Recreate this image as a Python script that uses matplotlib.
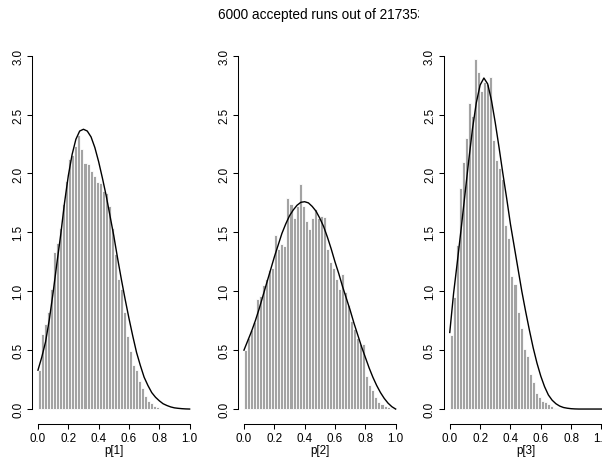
# %% imports
import numpy as np
import matplotlib
matplotlib.use('Agg')
import matplotlib.pyplot as plt
from matplotlib.transforms import Bbox, TransformedBbox

plt.rcParams['font.family'] = ['Liberation Sans', 'DejaVu Sans']

# %% data
title = '6000 accepted runs out of 217353'
labels = ['p[1]', 'p[2]', 'p[3]']
bin_width = 0.02

# histogram densities, 50 bins of width 0.02 on [0, 1]
dens_p1 = [0.33, 0.64, 0.72, 0.82, 1.02, 1.33, 1.41, 1.54, 1.74, 1.94,
           2.12, 2.16, 2.23, 2.33, 2.21, 2.09, 2.08, 2.02, 1.98, 1.93,
           1.92, 1.85, 1.83, 1.72, 1.54, 1.32, 1.10, 1.02, 0.82, 0.62,
           0.49, 0.37, 0.33, 0.24, 0.18, 0.11, 0.07, 0.05, 0.03, 0.02,
           0.01, 0.01, 0.005, 0, 0, 0, 0, 0, 0, 0]
dens_p2 = [0.50, 0.60, 0.67, 0.74, 0.93, 0.96, 1.05, 1.10, 1.18, 1.20,
           1.48, 1.36, 1.40, 1.38, 1.79, 1.74, 1.62, 1.72, 1.91, 1.72,
           1.60, 1.53, 1.62, 1.70, 1.62, 1.64, 1.63, 1.36, 1.25, 1.20,
           1.10, 1.02, 1.15, 0.99, 0.88, 0.75, 0.68, 0.60, 0.55, 0.55,
           0.28, 0.20, 0.16, 0.10, 0.06, 0.04, 0.03, 0.02, 0.01, 0.005]
dens_p3 = [0.63, 0.95, 1.39, 1.88, 2.10, 2.30, 2.60, 2.49, 2.97, 2.86,
           2.70, 2.78, 2.76, 2.82, 2.28, 2.11, 2.05, 1.95, 1.56, 1.45,
           1.13, 1.06, 0.82, 0.69, 0.51, 0.45, 0.30, 0.23, 0.14, 0.10,
           0.07, 0.06, 0.04, 0.03, 0.01, 0.005, 0, 0, 0, 0,
           0, 0, 0, 0, 0, 0, 0, 0, 0, 0]

# density curves, sampled every 0.025 on [0, 1]
curve_p1 = [0.33, 0.44, 0.57, 0.76, 0.99, 1.24, 1.48, 1.75, 1.98, 2.16,
            2.29, 2.36, 2.375, 2.36, 2.31, 2.22, 2.10, 1.96, 1.81, 1.64,
            1.47, 1.28, 1.10, 0.93, 0.77, 0.62, 0.48, 0.37, 0.27, 0.20,
            0.14, 0.10, 0.07, 0.045, 0.03, 0.018, 0.01, 0.006, 0.003, 0.001,
            0.0]
curve_p2 = [0.50, 0.58, 0.66, 0.75, 0.85, 0.96, 1.07, 1.18, 1.29, 1.39,
            1.49, 1.57, 1.64, 1.69, 1.73, 1.755, 1.76, 1.75, 1.72, 1.68,
            1.62, 1.55, 1.46, 1.36, 1.25, 1.15, 1.04, 0.94, 0.84, 0.73,
            0.63, 0.53, 0.44, 0.35, 0.27, 0.20, 0.14, 0.09, 0.05, 0.02,
            0.0]
curve_p3 = [0.65, 0.98, 1.25, 1.53, 1.82, 2.11, 2.38, 2.60, 2.75, 2.81,
            2.76, 2.62, 2.43, 2.22, 2.00, 1.79, 1.57, 1.38, 1.19, 1.00,
            0.83, 0.67, 0.52, 0.39, 0.28, 0.19, 0.12, 0.075, 0.045, 0.025,
            0.013, 0.007, 0.003, 0.001, 0.0, 0.0, 0.0, 0.0, 0.0, 0.0,
            0.0]

densities = [dens_p1, dens_p2, dens_p3]
curves = [curve_p1, curve_p2, curve_p3]

# %% layout (pixels of a 602x460 picture)
W, H = 602, 460
fig = plt.figure(figsize=(W / 100, H / 100), dpi=100)
lefts = [31.9, 237.9, 443.7]
ax_w = 163.8
ax_bottom, ax_top = 425.0, 21.3

bar_color = '#a3a3a3'
for i in range(3):
    ax = fig.add_axes([lefts[i] / W, (H - ax_bottom) / H, ax_w / W, (ax_bottom - ax_top) / H])
    d = np.array(densities[i])
    x = np.arange(len(d)) * bin_width
    ax.bar(x, d, width=bin_width, align='edge', color=bar_color,
           edgecolor='white', linewidth=0.6)
    cx = np.linspace(0, 1, len(curves[i]))
    ax.plot(cx, curves[i], color='black', lw=1.0)

    ax.set_xlim(-0.04, 1.04)
    ax.set_ylim(-0.127, 3.3)
    for s in ['top', 'right']:
        ax.spines[s].set_visible(False)
    ax.spines['left'].set_bounds(0, 3)
    ax.spines['bottom'].set_bounds(0, 1)
    for s in ['left', 'bottom']:
        ax.spines[s].set_linewidth(0.75)
    ax.set_xticks(np.arange(0, 1.01, 0.2))
    ax.set_xticklabels(['%.1f' % v for v in np.arange(0, 1.01, 0.2)])
    ax.set_yticks(np.arange(0, 3.01, 0.5))
    ax.set_yticklabels(['%.1f' % v for v in np.arange(0, 3.01, 0.5)],
                       rotation=90, va='center')
    ax.tick_params(length=3.6, width=0.75, labelsize=8.4, pad=2.0,
                   colors='black')
    ax.set_xlabel(labels[i], fontsize=8.4, labelpad=0.2)
    ax.patch.set_visible(False)

# the title is cut off on the right in the original, keep that
t = fig.text(218.5 / W, 1 - 18.5 / H, title, fontsize=9.8, ha='left',
             va='baseline')
t.set_clip_box(TransformedBbox(Bbox([[0, 0], [419 / W, 1]]), fig.transFigure))
t.set_clip_on(True)

fig.savefig('out.png', dpi=100)
